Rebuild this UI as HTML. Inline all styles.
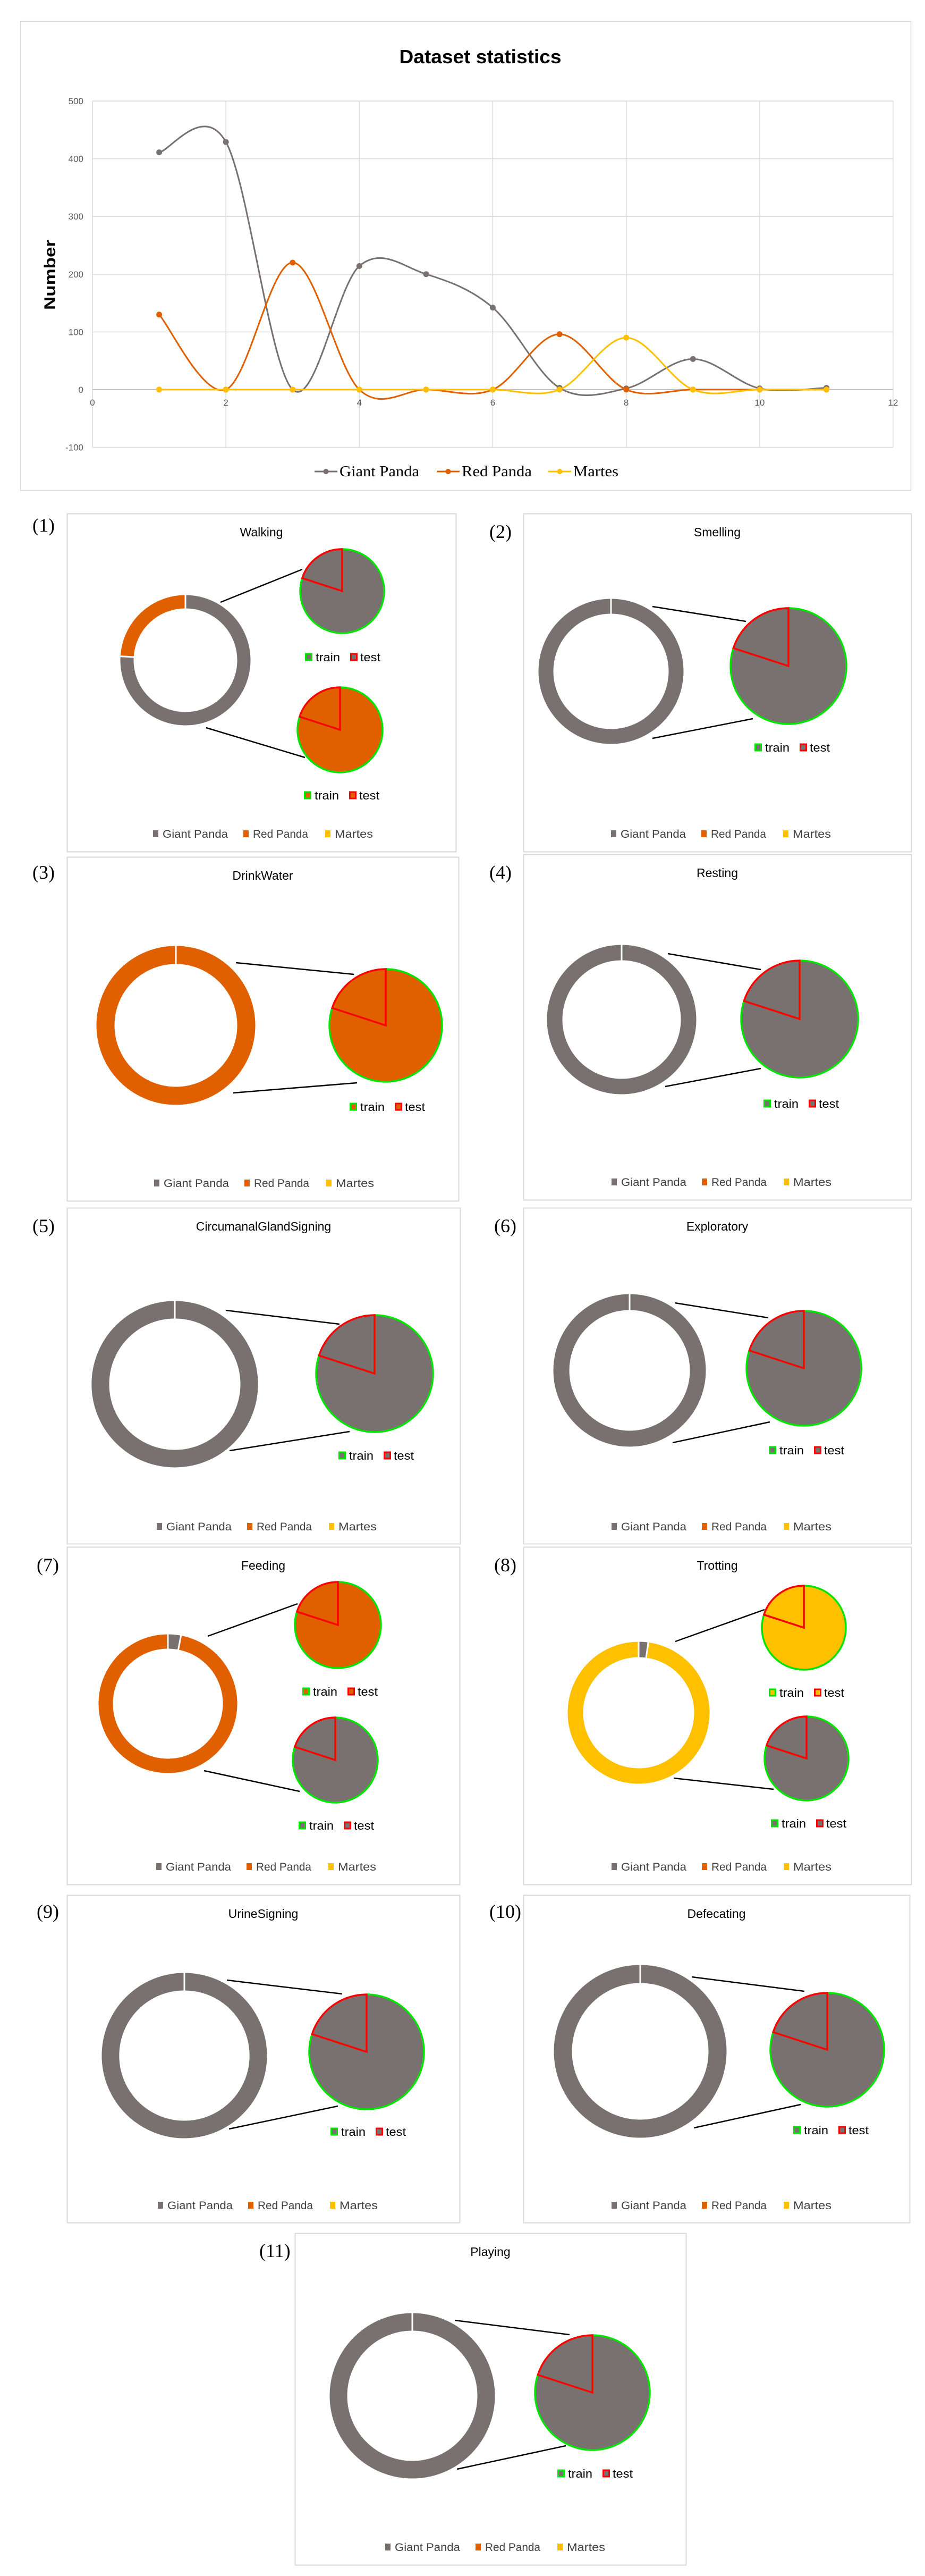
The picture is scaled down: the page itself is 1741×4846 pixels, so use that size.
<!DOCTYPE html>
<html><head><meta charset="utf-8"><style>
html,body{margin:0;padding:0;background:#fff;}
svg{display:block;}
</style></head><body>
<svg id="root" width="1741" height="4846" viewBox="0 0 1741 4846" xmlns="http://www.w3.org/2000/svg" font-family="Liberation Sans, sans-serif"></svg>
<script>
const categories = ['Walking','Smelling','DrinkWater','Resting','CircumanalGlandSigning','Exploratory','Feeding','Trotting','UrineSigning','Defecating','Playing'];
const xValues = [1,2,3,4,5,6,7,8,9,10,11];
const giantPanda = [411,429,0,214,200,142,3,2,53,2,3];
const redPanda = [130,0,220,0,0,0,96,0,0,0,0];
const martes = [0,0,0,0,0,0,0,90,0,0,0];
const xTicks = [0,2,4,6,8,10,12];
const yTicks = [-100,0,100,200,300,400,500];
const seriesNames = ['Giant Panda','Red Panda','Martes'];
const trainShare = [0.8,0.8,0.8,0.8,0.8,0.8,0.8,0.8,0.8,0.8,0.8];
const testShare = [0.2,0.2,0.2,0.2,0.2,0.2,0.2,0.2,0.2,0.2,0.2];

const NS='http://www.w3.org/2000/svg';
const root=document.getElementById('root');
const colors=['#787170','#e06000','#ffc000'];
const series=[giantPanda,redPanda,martes];
const SERIF='font-family:"Liberation Serif",serif';
function mk(tag,attrs,parent){const e=document.createElementNS(NS,tag);for(const k in attrs)e.setAttribute(k,attrs[k]);(parent||root).appendChild(e);return e;}
function txt(s,attrs,parent){const e=mk('text',attrs,parent);e.textContent=s;return e;}

// ---------- line chart ----------
const g0=mk('g',{});


const box=mk('rect',{x:38.5,y:40.5,width:1676,height:882,fill:'#fff',stroke:'#d9d9d9','stroke-width':1.5},g0);


const PL=174,PR=1681,PT=190,PB=841.5,XMIN=0,XMAX=12,YMIN=-100,YMAX=500;
const xs=v=>PL+(v-XMIN)/(XMAX-XMIN)*(PR-PL);
const ys=v=>PB-(v-YMIN)/(YMAX-YMIN)*(PB-PT);
const t0=txt('Dataset statistics',{x:904,y:119,'text-anchor':'middle','font-size':36,'font-weight':'bold',textLength:305,lengthAdjust:'spacingAndGlyphs',fill:'#000'},g0);


yTicks.forEach(v=>{
  const l=mk('line',{x1:PL,x2:PR,y1:ys(v),y2:ys(v),stroke:v===0?'#bfbfbf':'#d9d9d9','stroke-width':v===0?2:1.5},g0);
  
  
  const t=txt(String(v),{x:157,y:ys(v)+6,'text-anchor':'end','font-size':17,fill:'#595959'},g0);
  
  
});
xTicks.forEach(v=>{
  const l=mk('line',{x1:xs(v),x2:xs(v),y1:PT,y2:PB,stroke:'#d9d9d9','stroke-width':1.5},g0);
  
  
  const t=txt(String(v),{x:xs(v),y:ys(0)+30,'text-anchor':'middle','font-size':17,fill:'#595959'},g0);
  
  
});
const yl=txt('Number',{x:0,y:0,transform:'translate(104,517) rotate(-90)','text-anchor':'middle','font-size':30,'font-weight':'bold',textLength:132,lengthAdjust:'spacingAndGlyphs',fill:'#000'},g0);


function smooth(pts){
  let d='M'+pts[0][0]+','+pts[0][1];
  for(let i=0;i<pts.length-1;i++){
    const p0=pts[i-1]||pts[i],p1=pts[i],p2=pts[i+1],p3=pts[i+2]||p2;
    const c1=[p1[0]+(p2[0]-p0[0])/6,p1[1]+(p2[1]-p0[1])/6];
    const c2=[p2[0]-(p3[0]-p1[0])/6,p2[1]-(p3[1]-p1[1])/6];
    d+=' C'+c1[0]+','+c1[1]+' '+c2[0]+','+c2[1]+' '+p2[0]+','+p2[1];
  }
  return d;
}
const snames=['giant-panda','red-panda','martes'];
series.forEach((s,si)=>{
  const pts=s.map((v,i)=>[xs(xValues[i]),ys(v)]);
  const p=mk('path',{d:smooth(pts),fill:'none',stroke:colors[si],'stroke-width':3},g0);
  
  
  pts.forEach(pt=>{
    const c=mk('circle',{cx:pt[0],cy:pt[1],r:5.5,fill:colors[si]},g0);
    
    
  });
});
const legX=[592,822,1032],legTW=[150,132,85];
seriesNames.forEach((n,i)=>{
  const lg=mk('g',{},g0);
  
  
  mk('line',{x1:legX[i],x2:legX[i]+43,y1:887,y2:887,stroke:colors[i],'stroke-width':3},lg);
  mk('circle',{cx:legX[i]+21.5,cy:887,r:5,fill:colors[i]},lg);
  txt(n,{x:legX[i]+47,y:896,style:SERIF,'font-size':29,textLength:legTW[i],lengthAdjust:'spacingAndGlyphs',fill:'#000'},lg);
});

// ---------- panels ----------
const panels=[
 {x:126,y:966,w:732,h:636,lab:[61,1000],d:[223,276,124,96],pies:[{sp:0,c:[518,146,79],leg:[448,270]},{sp:1,c:[514,407,80],leg:[446,530]}],lines:[[415,1133,569,1071],[388,1369,574,1425]],bl:[162,602]},
 {x:985,y:966,w:730,h:636,lab:[921,1012],d:[165,297,138,107],pies:[{sp:0,c:[499,287,109],leg:[435,440]}],lines:[[1228,1141,1404,1169],[1228,1389,1417,1352]],bl:[165,602]},
 {x:126,y:1612,w:737,h:647,lab:[61,1653],d:[205,317,151,114],pies:[{sp:1,c:[600,317,106],leg:[532,470]}],lines:[[444,1811,666,1833],[439,2056,672,2037]],bl:[164,613]},
 {x:985,y:1607,w:730,h:650,lab:[921,1653],d:[185,311,142,110],pies:[{sp:0,c:[520,310,110],leg:[452,469]}],lines:[[1257,1794,1432,1824],[1252,2044,1432,2010]],bl:[166,616]},
 {x:126,y:2272,w:740,h:632,lab:[61,2318],d:[203,332,158,122],pies:[{sp:0,c:[579,312,110],leg:[511,466]}],lines:[[425,2465,639,2491],[432,2729,658,2693]],bl:[169,599]},
 {x:985,y:2272,w:730,h:632,lab:[930,2318],d:[200,306,145,112],pies:[{sp:0,c:[528,302,108],leg:[462,456]}],lines:[[1270,2451,1446,2479],[1266,2714,1449,2675]],bl:[166,599]},
 {x:126,y:2910,w:739,h:635,lab:[69,2956],d:[190,295,132,102],pies:[{sp:1,c:[510,147,81],leg:[443,272]},{sp:0,c:[505,401,80],leg:[436,524]}],lines:[[391,3078,560,3017],[384,3331,564,3370]],bl:[168,601]},
 {x:985,y:2910,w:730,h:635,lab:[930,2956],d:[217,312,135,103],pies:[{sp:2,c:[528,152,79],leg:[462,274]},{sp:0,c:[533,398,79],leg:[466,520]}],lines:[[1271,3088,1439,3028],[1268,3345,1456,3366]],bl:[166,601]},
 {x:126,y:3565,w:739,h:616,lab:[69,3608],d:[221,302,157,121],pies:[{sp:0,c:[564,295,108],leg:[496,445]}],lines:[[427,3725,644,3751],[431,4005,636,3962]],bl:[171,583]},
 {x:985,y:3565,w:727,h:616,lab:[921,3608],d:[220,294,164,127],pies:[{sp:0,c:[572,291,107],leg:[508,442]}],lines:[[1302,3719,1514,3746],[1306,4003,1507,3959]],bl:[166,583]},
 {x:555,y:4201,w:736,h:624,lab:[488,4246],d:[221,306,157,121],pies:[{sp:0,c:[560,300,108],leg:[494,452]}],lines:[[856,4365,1072,4392],[860,4645,1065,4601]],bl:[170,590]}
];
function pt(cx,cy,r,a){return [cx+r*Math.sin(a),cy-r*Math.cos(a)];}
function ringSeg(cx,cy,ro,ri,a0,a1){
  if(a1-a0>=2*Math.PI-1e-6){
    return 'M'+(cx)+','+(cy-ro)+' A'+ro+','+ro+' 0 1,1 '+cx+','+(cy+ro)+' A'+ro+','+ro+' 0 1,1 '+cx+','+(cy-ro)+
      ' M'+cx+','+(cy-ri)+' A'+ri+','+ri+' 0 1,0 '+cx+','+(cy+ri)+' A'+ri+','+ri+' 0 1,0 '+cx+','+(cy-ri)+'Z';
  }
  const la=(a1-a0)>Math.PI?1:0;
  const p0=pt(cx,cy,ro,a0),p1=pt(cx,cy,ro,a1),q1=pt(cx,cy,ri,a1),q0=pt(cx,cy,ri,a0);
  return 'M'+p0+' A'+ro+','+ro+' 0 '+la+',1 '+p1+' L'+q1+' A'+ri+','+ri+' 0 '+la+',0 '+q0+'Z';
}
function pieSeg(cx,cy,r,a0,a1){
  const la=(a1-a0)>Math.PI?1:0;
  const p0=pt(cx,cy,r,a0),p1=pt(cx,cy,r,a1);
  return 'M'+cx+','+cy+' L'+p0+' A'+r+','+r+' 0 '+la+',1 '+p1+'Z';
}
panels.forEach((P,i)=>{
  const g=mk('g',{});
  
  
  const fr=mk('rect',{x:P.x+0.5,y:P.y+0.5,width:P.w,height:P.h,fill:'#fff',stroke:'#d9d9d9','stroke-width':2},g);
  
  
  const lb=txt('('+(i+1)+')',{x:P.lab[0],y:P.lab[1],style:SERIF,'font-size':36,fill:'#000'},g);
  
  
  const tt=txt(categories[i],{x:P.x+P.w/2,y:P.y+43,'text-anchor':'middle','font-size':23,fill:'#000'},g);
  
  
  const vals=series.map(s=>s[i]);
  const tot=vals.reduce((a,b)=>a+b,0);
  const cx=P.x+P.d[0],cy=P.y+P.d[1];
  let a=0;
  vals.forEach((v,si)=>{
    if(v<=0)return;
    const a1=a+v/tot*2*Math.PI;
    const s=mk('path',{d:ringSeg(cx,cy,P.d[2],P.d[3],a,a1),fill:colors[si],stroke:'#fff','stroke-width':3},g);
    
    
    a=a1;
  });
  const sep=mk('line',{x1:cx,x2:cx,y1:cy-P.d[2]-1,y2:cy-P.d[3]+1,stroke:'#fff','stroke-width':3},g);
  
  
  P.lines.forEach(L=>{
    const l=mk('line',{x1:L[0],y1:L[1],x2:L[2],y2:L[3],stroke:'#000','stroke-width':2.5},g);
    
    
  });
  P.pies.forEach(pp=>{
    const px=P.x+pp.c[0],py=P.y+pp.c[1],r=pp.c[2];
    const tr=trainShare[i],te=testShare[i],T=tr+te;
    const aTr=tr/T*2*Math.PI;
    const s1=mk('path',{d:pieSeg(px,py,r,0,aTr),fill:colors[pp.sp],stroke:'#00e600','stroke-width':3.5,'stroke-linejoin':'round'},g);
    
    
    const s2=mk('path',{d:pieSeg(px,py,r,aTr,2*Math.PI),fill:colors[pp.sp],stroke:'#ff0000','stroke-width':3.5,'stroke-linejoin':'miter'},g);
    
    
    const lx=P.x+pp.leg[0],ly=P.y+pp.leg[1];
    const lg=mk('g',{},g);
    
    
    mk('rect',{x:lx+1.5,y:ly-6,width:11,height:12,fill:colors[pp.sp],stroke:'#00e600','stroke-width':3},lg);
    txt('train',{x:lx+20,y:ly+8,'font-size':22,textLength:46,lengthAdjust:'spacingAndGlyphs',fill:'#000'},lg);
    mk('rect',{x:lx+86.5,y:ly-6,width:11,height:12,fill:colors[pp.sp],stroke:'#ff0000','stroke-width':3},lg);
    txt('test',{x:lx+104,y:ly+8,'font-size':22,textLength:38,lengthAdjust:'spacingAndGlyphs',fill:'#000'},lg);
  });
  const bx=P.x+P.bl[0],by=P.y+P.bl[1];
  const offs=[0,170,324],tws=[123,104,72];
  seriesNames.forEach((n,si)=>{
    const lg=mk('g',{},g);
    
    
    mk('rect',{x:bx+offs[si],y:by-6,width:10,height:13,fill:colors[si]},lg);
    txt(n,{x:bx+offs[si]+18,y:by+8,'font-size':21,textLength:tws[si],lengthAdjust:'spacingAndGlyphs',fill:'#404040'},lg);
  });
});
</script>
</body></html>
